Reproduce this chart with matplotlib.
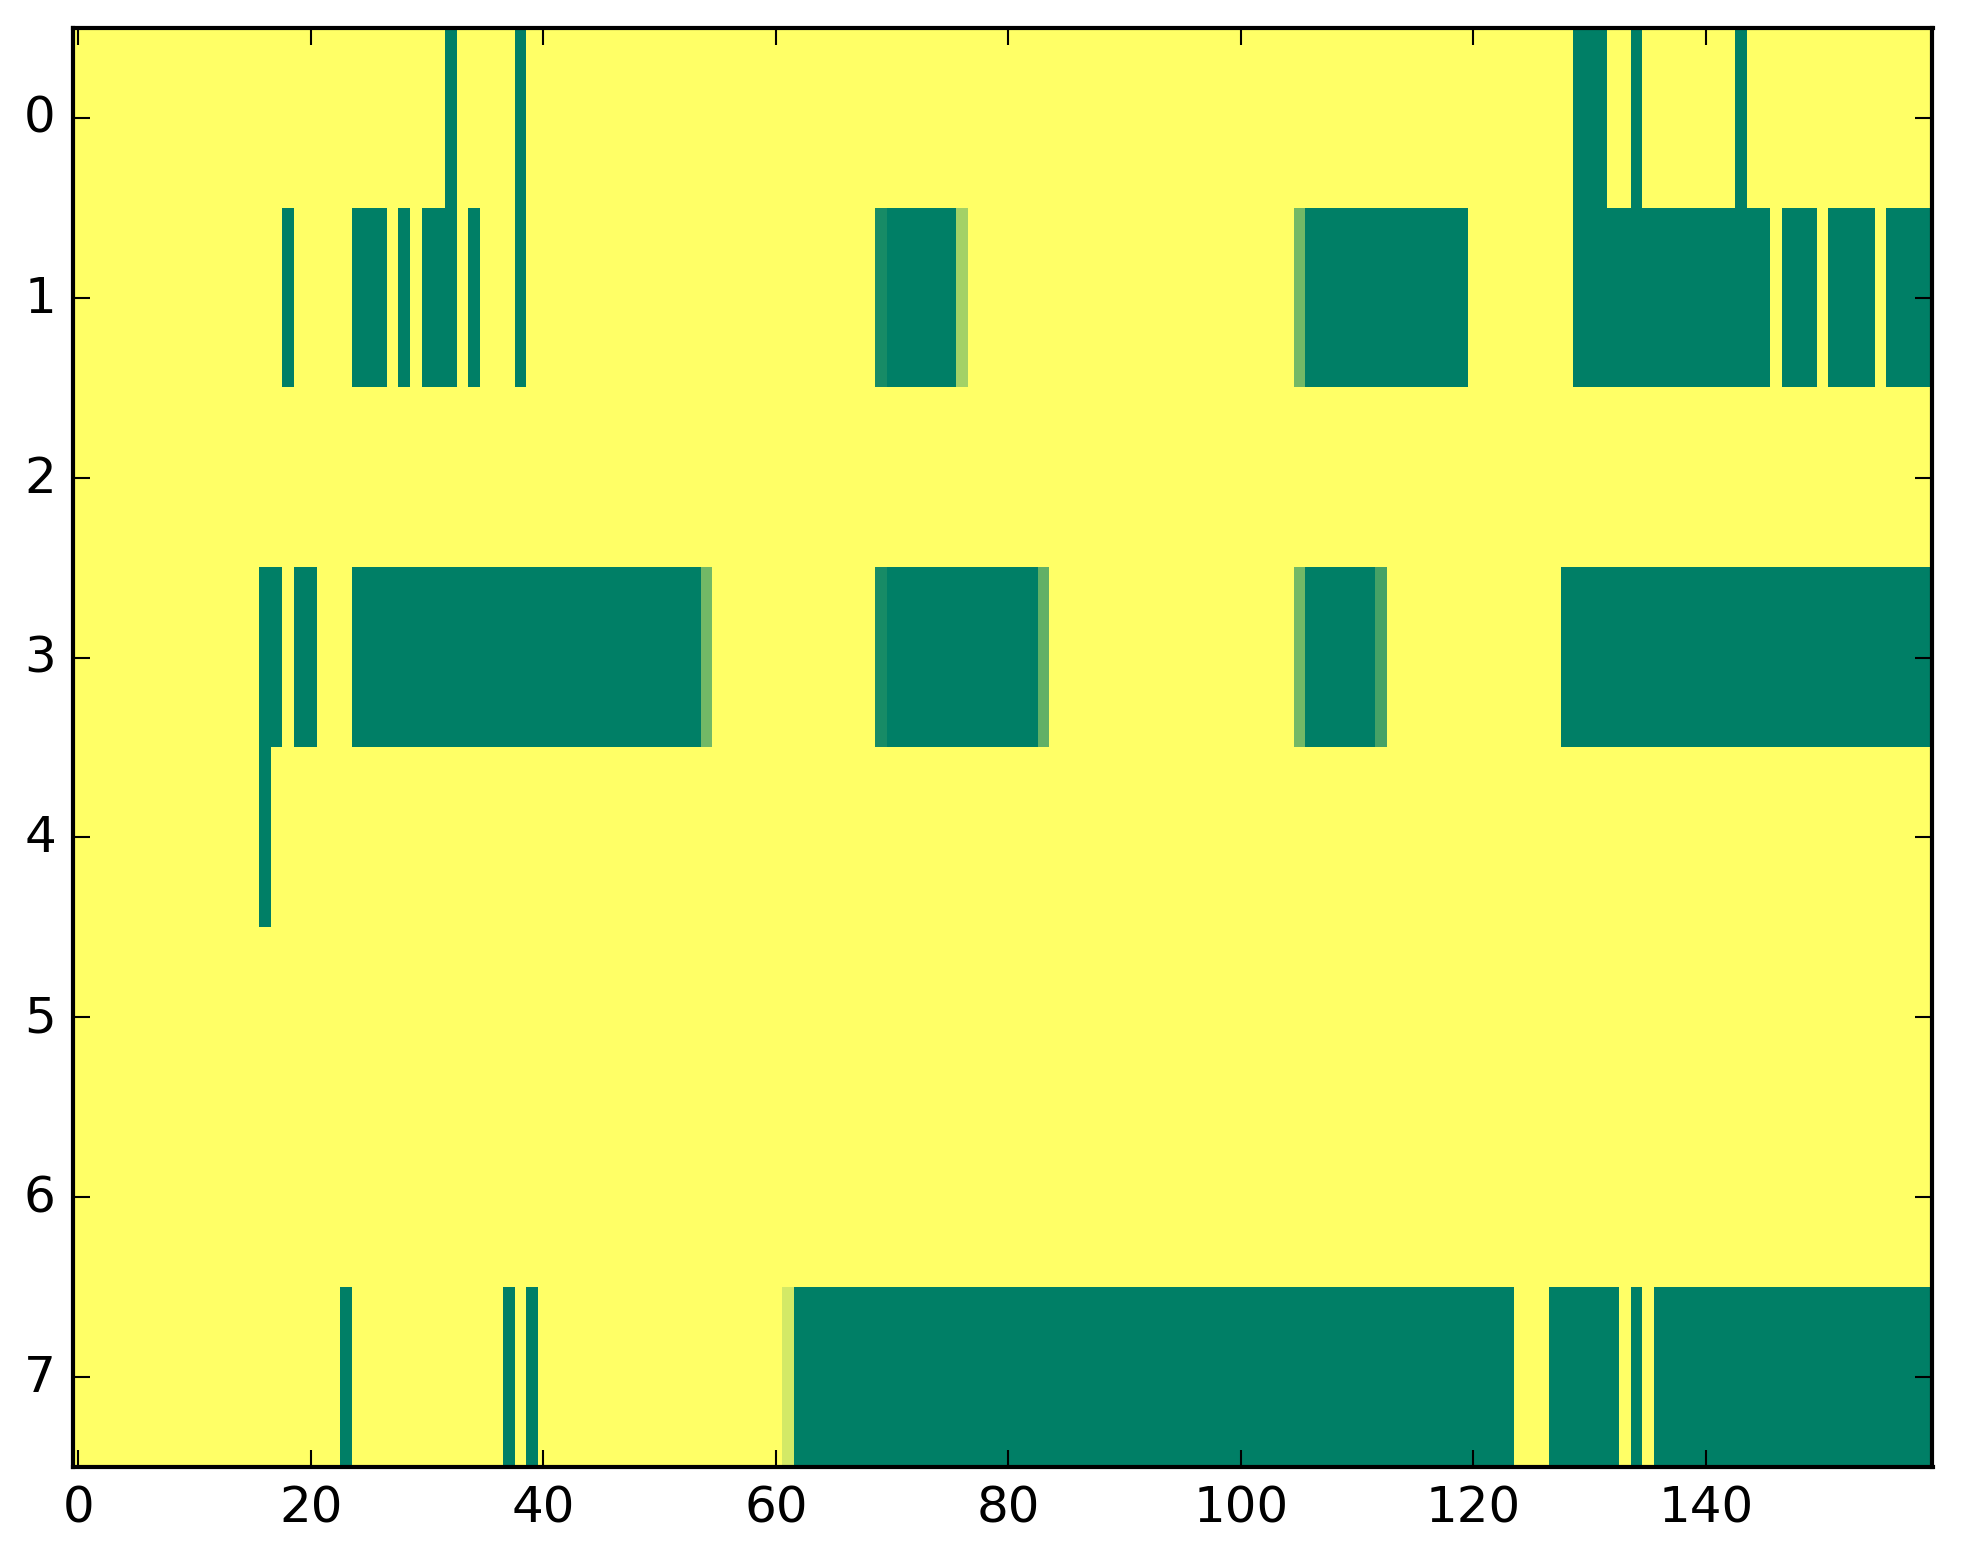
import numpy as np
import matplotlib
matplotlib.use('Agg')
import matplotlib.pyplot as plt

n_filas = 8
n_columnas = 160

# tramos por fila: (columna inicial, columna final, valor)
fila_0 = [(32, 32, 1), (38, 38, 1), (129, 131, 1), (134, 134, 1), (143, 143, 1)]
fila_1 = [(18, 18, 1), (24, 26, 1), (28, 28, 1), (30, 32, 1), (34, 34, 1), (38, 38, 1),
          (69, 69, 0.91), (70, 75, 1), (76, 76, 0.36),
          (105, 105, 0.55), (106, 119, 1),
          (129, 145, 1), (147, 149, 1), (151, 154, 1), (156, 159, 1)]
fila_2 = []
fila_3 = [(16, 17, 1), (19, 20, 1), (24, 53, 1), (54, 54, 0.55),
          (69, 69, 0.91), (70, 82, 1), (83, 83, 0.62),
          (105, 105, 0.55), (106, 111, 1), (112, 112, 0.73),
          (128, 159, 1)]
fila_4 = [(16, 16, 1)]
fila_5 = []
fila_6 = []
fila_7 = [(23, 23, 1), (37, 37, 1), (39, 39, 1), (61, 61, 0.17),
          (62, 123, 1), (127, 132, 1), (134, 134, 1), (136, 159, 1)]

filas = [fila_0, fila_1, fila_2, fila_3, fila_4, fila_5, fila_6, fila_7]

matriz = np.zeros((n_filas, n_columnas))
for i, tramos in enumerate(filas):
    for inicio, fin, valor in tramos:
        matriz[i, inicio:fin + 1] = valor

plt.style.use('classic')
fig = plt.figure(figsize=(1963 / 300, 1564 / 300), dpi=300)
ax = fig.add_axes([72.5 / 1963, 96 / 1564, 1860 / 1963, 1439 / 1564])

ax.imshow(matriz, cmap='summer_r', vmin=0, vmax=1, aspect='auto',
          interpolation='nearest')
ax.set_xlim(-0.5, n_columnas - 0.5)
ax.set_ylim(n_filas - 0.5, -0.5)
ax.set_xticks(np.arange(0, 141, 20))
ax.set_yticks(np.arange(0, 8))

fig.savefig('out.png', dpi=300)
